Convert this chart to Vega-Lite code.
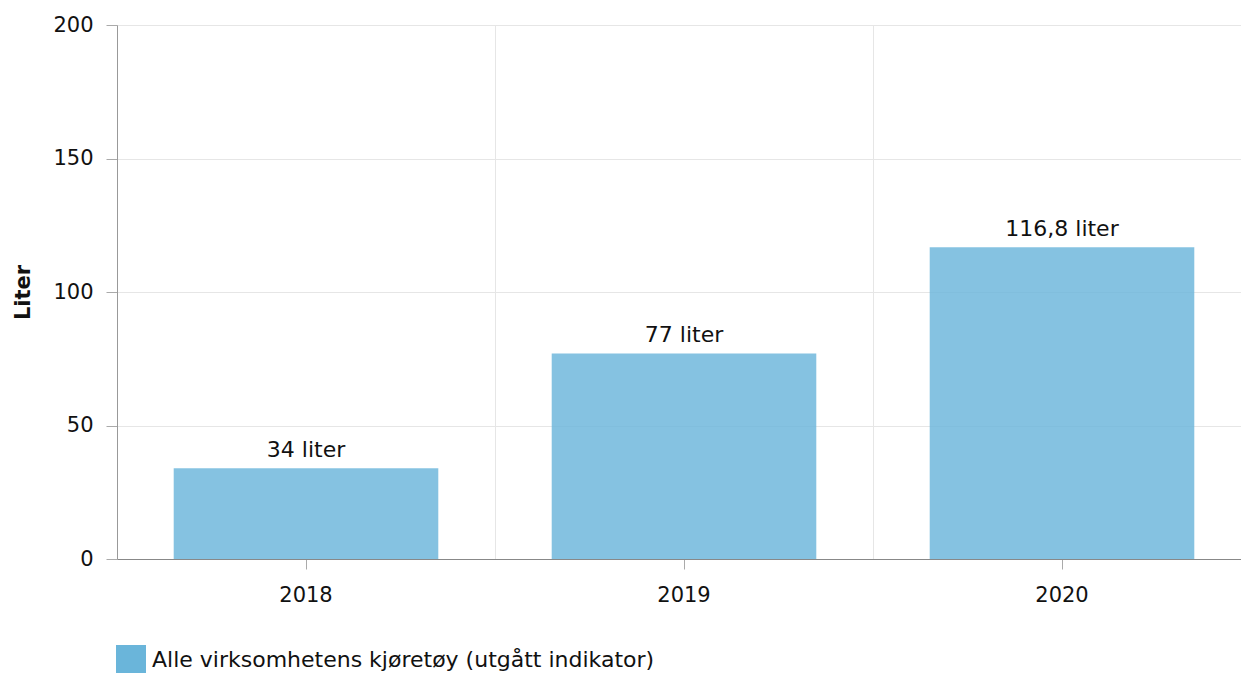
{
  "$schema": "https://vega.github.io/schema/vega-lite/v6.json",
  "autosize": {"type": "none"},
  "padding": {"left": 117, "top": 25, "right": 0, "bottom": 114},
  "width": 1124,
  "height": 534,
  "background": "white",
  "config": {
    "font": "DejaVu Sans",
    "view": {"stroke": null},
    "axis": {"labelFont": "DejaVu Sans", "titleFont": "DejaVu Sans", "labelColor": "#111", "titleColor": "#111"}
  },
  "data": {
    "values": [
      {"year": "2018", "value": 34, "label": "34 liter", "series": "Alle virksomhetens kjøretøy (utgått indikator)"},
      {"year": "2019", "value": 77, "label": "77 liter", "series": "Alle virksomhetens kjøretøy (utgått indikator)"},
      {"year": "2020", "value": 116.8, "label": "116,8 liter", "series": "Alle virksomhetens kjøretøy (utgått indikator)"}
    ]
  },
  "encoding": {
    "x": {"field": "year", "type": "ordinal", "scale": {"paddingInner": 0, "paddingOuter": 0, "range": [0, 1134]}},
    "y": {"field": "value", "type": "quantitative", "scale": {"domain": [0, 200]},
      "axis": {"values": [0, 50, 100, 150, 200], "title": "Liter", "titleFontSize": 21, "titleFontWeight": "bold", "titlePadding": 19,
        "labelFontSize": 21, "labelPadding": 13, "tickSize": 11, "tickColor": "#aaa", "domainColor": "#999", "gridColor": "#e6e6e6", "grid": true}}
  },
  "layer": [
    {
      "mark": {"type": "bar", "width": {"band": 0.7}, "opacity": 0.82},
      "encoding": {
        "color": {"field": "series", "type": "nominal", "scale": {"range": ["#6ab5da"]},
          "legend": {"title": null, "orient": "none", "legendX": -1, "legendY": 620, "symbolType": "square", "symbolSize": 900, "symbolOpacity": 1, "symbolStrokeWidth": 0, "labelFontSize": 22, "labelFont": "DejaVu Sans", "labelColor": "#111", "labelLimit": 800, "labelOffset": 6}},
        "x": {"field": "year", "type": "ordinal",
          "axis": {"title": null, "labelAngle": 0, "labelFontSize": 21, "labelPadding": 15, "tickSize": 10, "tickColor": "#aaa", "domainColor": "#888", "grid": false, "orient": "bottom"}}
      }
    },
    {
      "mark": {"type": "text", "baseline": "bottom", "dy": -6, "fontSize": 22, "color": "#111"},
      "encoding": {
        "text": {"field": "label"},
        "x": {"field": "year", "type": "ordinal",
          "axis": {"orient": "top", "title": null, "labels": false, "ticks": false, "domain": false, "grid": true, "bandPosition": 0, "gridColor": "#e6e6e6"}}
      }
    }
  ],
  "resolve": {"axis": {"x": "independent"}}
}
